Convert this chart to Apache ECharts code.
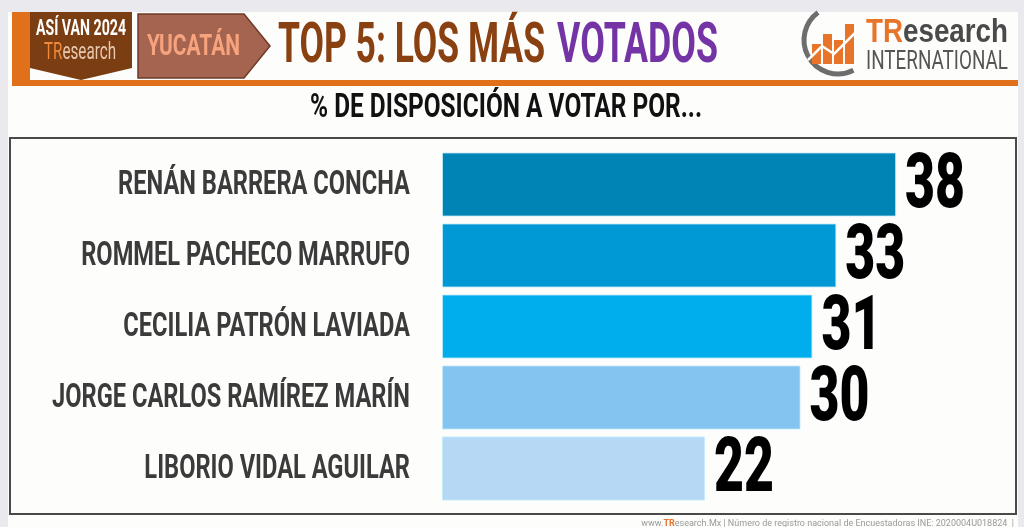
<!DOCTYPE html>
<html><head><meta charset="utf-8">
<script src="https://cdn.jsdelivr.net/npm/echarts@6/dist/echarts.min.js"></script>
<style>html,body{margin:0;padding:0;background:#e9e9ee;}#c{width:1024px;height:527px;}</style>
</head><body><div id="c"></div>
<script>
const categories = ["RENÁN BARRERA CONCHA","ROMMEL PACHECO MARRUFO","CECILIA PATRÓN LAVIADA","JORGE CARLOS RAMÍREZ MARÍN","LIBORIO VIDAL AGUILAR"];
const values = [38, 33, 31, 30, 22];
const barColors = ["#0083B5","#0099D6","#00AEEE","#84C4F1","#B6D8F4"];

const FF = 'Roboto,"DejaVu Sans",sans-serif';
const mctx = document.createElement('canvas').getContext('2d');
function tw(txt, font){ mctx.font = font; return mctx.measureText(txt).width; }
function fitText(txt, font, fill, x, y, targetW, align, extra){
  const s = targetW / tw(txt, font);
  return Object.assign({type:'text', x:x, y:y, scaleX:s,
    style:{text:txt, x:0, y:0, font:font, fill:fill, align:align||'left', verticalAlign:'middle'}}, extra||{});
}

const catFont = 'bold 34px ' + FF;
const catScale = 358 / tw(categories[3], catFont);
const valFont = '900 76px ' + FF;
const valScale = 60 / tw('38', valFont);

const chart = echarts.init(document.getElementById('c'), null, {renderer:'canvas'});
const titleFont = 'bold 56px ' + FF;
const shadow = {shadowBlur:2, shadowColor:'rgba(0,0,0,0.35)', shadowOffsetX:1.5, shadowOffsetY:1.5};
const t1 = fitText('TOP 5: LOS MÁS', titleFont, '#8A4112', 278, 48, 267);
t1.style = Object.assign(t1.style, shadow);
const t2 = fitText('VOTADOS', titleFont, '#7434A6', 557, 48, 161);
t2.style = Object.assign(t2.style, shadow);

chart.setOption({
  backgroundColor: '#e9e9ee',
  animation: false,
  graphic: [
    {type:'rect', shape:{x:8,y:12,width:1010,height:515}, style:{fill:'#fdfdfb'}, z:-10},
    {type:'rect', shape:{x:12,y:80,width:1006,height:6}, style:{fill:'#E0701A'}},
    {type:'rect', shape:{x:12,y:12,width:18,height:70}, style:{fill:'#E0701A'}},
    {type:'polygon', shape:{points:[[30,12],[132,12],[132,68],[81,80],[30,68]]}, style:{fill:'#7A3E12'}},
    fitText('ASÍ VAN 2024', 'bold 22px '+FF, '#ffffff', 36, 29, 90),
    {type:'text', x:44, y:53, scaleX: 72 / tw('TResearch', '24px '+FF),
      style:{text:'{a|TR}{b|esearch}', x:0, y:0, align:'left', verticalAlign:'middle',
      rich:{a:{font:'24px '+FF, fill:'#F08A3A'}, b:{font:'24px '+FF, fill:'#E8C9B0'}}}},
    {type:'polygon', shape:{points:[[138,14],[244,14],[270,46],[244,78],[138,78]]}, style:{fill:'#A5644F', stroke:'#6e3a28', lineWidth:1.5}},
    fitText('YUCATÁN', 'bold 30px '+FF, '#F6A37E', 147, 47, 93),
    t1, t2,
    // logo
    {type:'arc', shape:{cx:838,cy:40,r:34,startAngle:Math.PI*0.35,endAngle:Math.PI*1.3}, style:{stroke:'#6d6d6d', lineWidth:5, fill:null}},
    {type:'rect', shape:{x:812,y:44,width:9,height:20}, style:{fill:'#E8742A'}},
    {type:'rect', shape:{x:823,y:34,width:9,height:30}, style:{fill:'#E8742A'}},
    {type:'rect', shape:{x:834,y:40,width:9,height:24}, style:{fill:'#E8742A'}},
    {type:'rect', shape:{x:845,y:24,width:9,height:40}, style:{fill:'#E8742A'}},
    {type:'polyline', shape:{points:[[808,60],[822,46],[834,54],[858,30]]}, style:{stroke:'#ffffff', lineWidth:2.5, fill:null}},
    {type:'text', x:866, y:33, scaleX: 142 / tw('TResearch', 'bold 34px "Liberation Sans",Arial,sans-serif'),
      style:{text:'{a|TR}{b|esearch}', x:0, y:0, align:'left', verticalAlign:'middle',
      rich:{a:{font:'bold 34px "Liberation Sans",Arial,sans-serif', fill:'#E8742A'}, b:{font:'bold 34px "Liberation Sans",Arial,sans-serif', fill:'#4a4a4a'}}}},
    fitText('INTERNATIONAL', '26px '+FF, '#555555', 866, 62, 142),
    fitText('% DE DISPOSICIÓN A VOTAR POR...', 'bold 34px '+FF, '#111111', 310, 108, 392),
    {type:'rect', shape:{x:10,y:138,width:1006,height:376}, style:{fill:'#fdfdfb', stroke:'#4a4a4a', lineWidth:2}, z:-5},
    {type:'text', style:{text:'{a|www.}{b|TR}{a|esearch.Mx | Número de registro nacional de Encuestadoras INE: 2020004U018824  |}', x:1014, y:524, align:'right', verticalAlign:'middle',
      rich:{a:{font:'9px '+FF, fill:'#999999'}, b:{font:'bold 9px '+FF, fill:'#E8742A'}}}}
  ],
  grid: {left:442, top:149, width:478, height:355, outerBoundsMode:'none', containLabel:false},
  xAxis: {type:'value', min:0, max:40, show:false},
  yAxis: {type:'category', data:categories, inverse:true, show:true,
    axisLine:{show:false}, axisTick:{show:false}, splitLine:{show:false}, axisLabel:{show:false}},
  series: [{
    type:'bar', data: values.map((v,i)=>({value:v, itemStyle:{color:barColors[i]}})),
    barWidth:64,
    itemStyle:{borderColor:'rgba(190,235,250,0.8)', borderWidth:1}
  },{
    type:'custom', data: values.map((v,i)=>[v,i]),
    renderItem: function(params, api){
      const v = api.value(0), i = api.value(1);
      const p0 = api.coord([0, i]);
      const p1 = api.coord([v, i]);
      return {type:'group', children:[
        {type:'text', x:p0[0]-32, y:p0[1]+1, scaleX:catScale,
          style:{text:categories[i], x:0, y:0, font:catFont, fill:'#3b3b3b', align:'right', verticalAlign:'middle'}},
        {type:'text', x:p1[0]+9, y:p1[1]+3, scaleX:valScale,
          style:{text:String(v), x:0, y:0, font:valFont, fill:'#000000', align:'left', verticalAlign:'middle'}}
      ]};
    }
  }]
});
</script></body></html>
